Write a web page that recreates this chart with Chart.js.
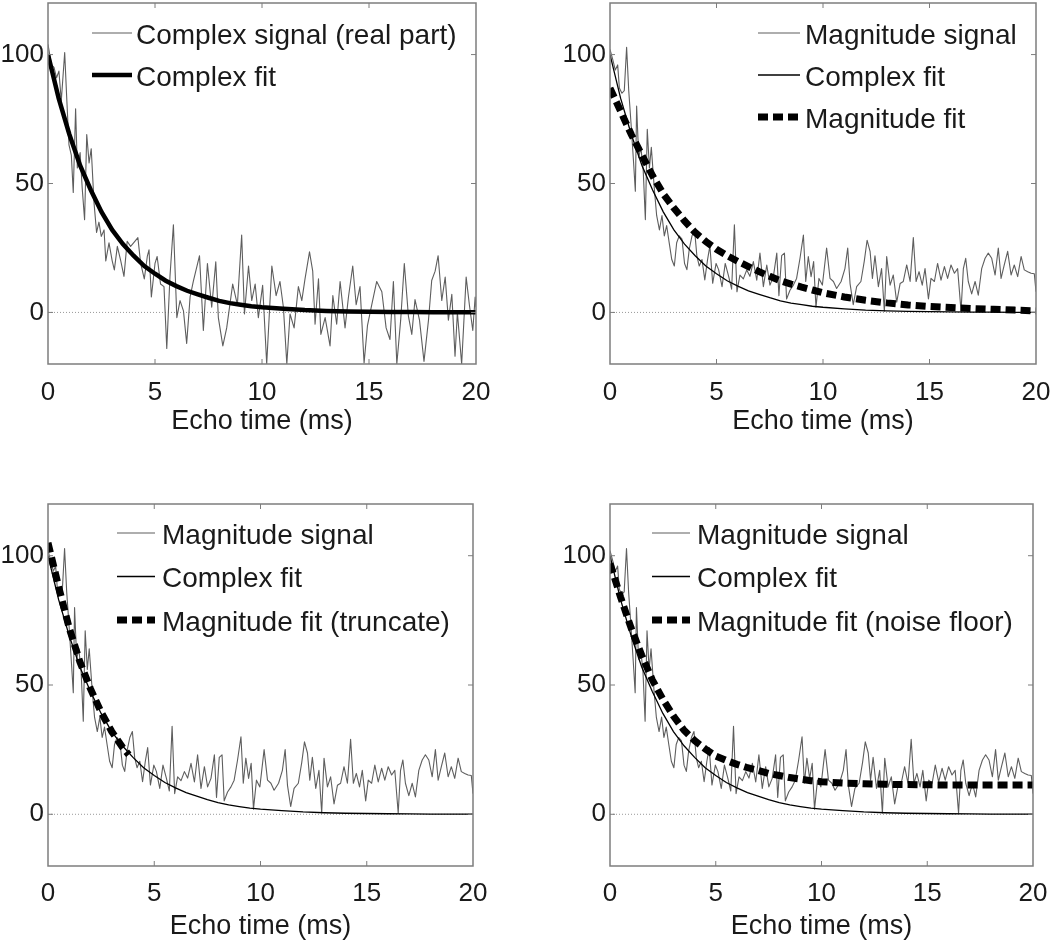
<!DOCTYPE html>
<html>
<head>
<meta charset="utf-8">
<title>Echo time fits</title>
<script src="https://cdn.jsdelivr.net/npm/chart.js@4.4.1/dist/chart.umd.min.js"></script>
<style>
  html, body { margin: 0; padding: 0; background: #fff; }
  #page { position: relative; width: 1050px; height: 944px; }
  .panel { position: absolute; width: 525px; }
  .panel canvas { display: block; }
</style>
</head>
<body>
<div id="page">
  <div class="panel" style="left:0;top:0;height:440px"><canvas id="c1" width="525" height="440"></canvas></div>
  <div class="panel" style="left:525px;top:0;height:440px"><canvas id="c2" width="525" height="440"></canvas></div>
  <div class="panel" style="left:0;top:500px;height:444px"><canvas id="c3" width="525" height="444"></canvas></div>
  <div class="panel" style="left:525px;top:500px;height:444px"><canvas id="c4" width="525" height="444"></canvas></div>
</div>
<script>
(function () {
    'use strict';

    const xTicks = [0, 5, 10, 15, 20];
    const yTicks = [0, 50, 100];

    // complex signal, real part (top left)
    const complexTime = [0, 0.16, 0.28, 0.4, 0.51, 0.62, 0.78, 0.87, 0.98, 1.09, 1.18, 1.29, 1.37, 1.5, 1.6, 1.71, 1.81, 1.92, 2.02, 2.15,
        2.27, 2.38, 2.49, 2.62, 2.7, 2.85, 3.0, 3.1, 3.24, 3.4, 3.55, 3.7, 3.86, 4.0, 4.2, 4.33, 4.5, 4.64, 4.72, 4.83,
        5.0, 5.1, 5.26, 5.42, 5.55, 5.7, 5.86, 6.02, 6.17, 6.33, 6.48, 6.64, 6.79, 7.08, 7.26, 7.45, 7.65, 7.84, 7.96, 8.17,
        8.35, 8.63, 8.85, 9.05, 9.18, 9.37, 9.52, 9.68, 9.83, 10.03, 10.22, 10.46, 10.66, 10.84, 11.0, 11.16, 11.31, 11.5, 11.7, 11.86,
        12.01, 12.22, 12.37, 12.48, 12.64, 12.75, 12.95, 13.18, 13.31, 13.49, 13.65, 13.88, 14.04, 14.24, 14.4, 14.58, 14.77, 14.93, 15.13, 15.36,
        15.6, 15.8, 15.98, 16.14, 16.3, 16.48, 16.65, 16.84, 17.0, 17.15, 17.36, 17.57, 17.78, 17.93, 18.09, 18.23, 18.4, 18.56, 18.71, 18.87,
        19.02, 19.13, 19.33, 19.54, 19.69, 19.85, 19.96, 20];
    const complexSignal = [104, 96, 95, 91, 93.6, 82, 100.8, 84, 65, 61, 46.5, 79, 56, 62, 48, 36, 69, 58, 63.5, 42.6,
        31, 35, 29.5, 32, 20, 27, 20, 16.5, 25.6, 20, 14, 27.6, 25.6, 27, 29, 19, 13, 21.7, 24.3, 6,
        19, 21.7, 11, 10, -14, 14, 34, -2, 4.6, 0.6, -12, 6, 12, 22, -7, 19, 2, 19.6, -2, -13,
        -6, 11, 3, 30, -0.6, 18, 4.6, 11, -2, 10.5, -20, 18, 6.5, 12, 2, -20, -0.6, -6, 10, 4.6,
        13, 23.5, 16, -4.6, 13, -8.5, -2, -13, 6.5, -4.6, 12, -6, 6, 18, 3, 10, -19.6, -5, 3, 12,
        8, -6, -10.5, 12, -20, -3, 19, -1.3, -8.5, 5, -3, -19, -3, 12.4, 16, 22, 4.6, 13.7, -3, 7,
        -17, 0, -20, 13.7, 3, -7, 6, 2];

    // magnitude signal (same in the other three panels)
    const magTime = [0, 0.13, 0.25, 0.36, 0.44, 0.56, 0.67, 0.78, 0.88, 0.99, 1.1, 1.19, 1.25, 1.35, 1.45, 1.56, 1.66, 1.75, 1.85, 1.94,
        2.08, 2.19, 2.32, 2.44, 2.55, 2.66, 2.78, 2.9, 3.02, 3.13, 3.25, 3.38, 3.5, 3.61, 3.72, 3.85, 3.97, 4.08, 4.19, 4.32,
        4.45, 4.58, 4.69, 4.82, 4.98, 5.1, 5.26, 5.41, 5.57, 5.71, 5.84, 5.96, 6.1, 6.26, 6.42, 6.57, 6.73, 6.89, 7.04, 7.2,
        7.36, 7.51, 7.67, 7.83, 7.93, 8.06, 8.19, 8.29, 8.45, 8.61, 8.76, 8.92, 9.08, 9.19, 9.31, 9.44, 9.56, 9.67, 9.81, 9.97,
        10.17, 10.33, 10.49, 10.64, 10.85, 11.03, 11.16, 11.27, 11.42, 11.58, 11.78, 11.94, 12.07, 12.21, 12.32, 12.44, 12.6, 12.75, 12.88, 12.99,
        13.15, 13.3, 13.46, 13.62, 13.77, 13.93, 14.09, 14.24, 14.37, 14.51, 14.66, 14.79, 14.95, 15.07, 15.23, 15.38, 15.54, 15.7, 15.85, 16.01,
        16.17, 16.32, 16.48, 16.59, 16.7, 16.82, 16.98, 17.14, 17.29, 17.45, 17.61, 17.76, 17.92, 18.08, 18.23, 18.36, 18.51, 18.67, 18.83, 18.98,
        19.14, 19.3, 19.45, 19.61, 19.77, 19.92, 20];
    const magSignal = [102, 98, 94, 96, 87, 85, 86, 102.8, 86, 73, 59, 47, 80, 60, 64, 55, 36, 71, 56, 64,
        48, 37.6, 32, 37.6, 29.7, 33.7, 27, 20.5, 18, 27, 29.7, 28.4, 19, 16.6, 24.5, 29.7, 32, 21.8, 18, 20.5,
        12.6, 20.5, 25.8, 11.3, 19, 16.6, 10, 19, 14, 9, 34, 8, 14.5, 13, 16.5, 14, 19.7, 12.5, 23, 10,
        18.4, 10.6, 13.9, 23, 6.5, 22, 23, 5.2, 8.6, 10.6, 13.2, 21, 30, 12, 21.7, 13.9, 19.7, 2, 13.2, 10.6,
        25, 13.2, 12, 9.3, 12, 17, 25, 11.2, 3, 10, 12, 20, 28, 23.7, 13.2, 22, 10, 17, 0.5, 21.7,
        10.6, 14.5, 4, 11.2, 12, 18.4, 12, 29, 12, 15.8, 10.6, 17, 5.2, 13.2, 12, 19, 12.5, 17.8, 13.2, 18.4,
        15.2, 17, 0.5, 17, 21, 12, 7.2, 12, 6.7, 17, 21, 23, 21, 14.5, 25, 13.2, 18.4, 23.7, 14.5, 18.4,
        13.9, 21.7, 16.5, 15.8, 15.2, 15, 8];

    // fitted curves, read at fixed echo times
    const fitTime = [0, 0.5, 1, 1.5, 2, 2.5, 3, 3.5, 4, 4.5, 5, 5.5, 6, 6.5, 7, 7.5, 8, 8.5, 9, 9.5, 10,
        11, 12, 13, 14, 15, 16, 17, 18, 19, 20];
    const complexFit = [100, 83, 69, 57, 47.5, 39, 32, 26.5, 22, 18, 15, 12.3, 10.2, 8.4, 7, 5.7, 4.5, 3.6, 3, 2.4, 2,
        1.4, 0.9, 0.6, 0.4, 0.3, 0.2, 0.15, 0.1, 0.05, 0.03];
    const magFit = [87, 78, 69, 61, 53, 46, 40.5, 35.5, 31, 27.5, 24.5, 22, 19.8, 17.8, 15.8, 14, 12.3, 11, 9.8, 8.7, 7.6,
        6, 4.7, 3.7, 2.9, 2.3, 1.9, 1.5, 1.2, 0.9, 0.6];
    const floorFit = [97, 84, 72, 61.5, 52, 44.5, 38, 32.5, 28.5, 25.3, 22.5, 20.8, 19.3, 18, 17, 15.8, 15, 14.2, 13.6, 13, 12.6,
        12.1, 11.8, 11.6, 11.5, 11.4, 11.3, 11.3, 11.3, 11.3, 11.3];
    const truncTime = [0, 0.5, 1, 1.5, 2, 2.5, 3, 3.5, 3.8];
    const truncFit = [105, 88, 72, 59, 48.5, 39.5, 32, 26, 23];

    const FONT = "'Liberation Sans', Arial, sans-serif";
    const TEXT = '#1a1a1a';
    const pts = (xs, ys) => xs.map((x, i) => ({ x: x, y: ys[i] }));

    function signal(label, xs, ys) {
        return { label, data: pts(xs, ys), borderColor: '#5e5e5e', borderWidth: 1.1, borderJoinStyle: 'round', order: 3 };
    }
    function solid(label, xs, ys, w) {
        return { label, data: pts(xs, ys), borderColor: '#000', borderWidth: w, order: 2 };
    }
    function dashed(label, xs, ys) {
        return { label, data: pts(xs, ys), borderColor: '#000', borderWidth: 7, borderDash: [10, 5], borderCapStyle: 'butt', order: 1 };
    }

    // box, inward ticks, dotted zero line and the legend
    const framePlugin = {
        id: 'frame',
        beforeDatasetsDraw(chart) {
            const { ctx, chartArea: a, scales: { y } } = chart;
            const y0 = y.getPixelForValue(0);
            ctx.save();
            ctx.strokeStyle = '#999';
            ctx.lineWidth = 1;
            ctx.setLineDash([1, 2]);
            ctx.beginPath();
            ctx.moveTo(a.left, y0);
            ctx.lineTo(a.right, y0);
            ctx.stroke();
            ctx.restore();
        },
        afterDatasetsDraw(chart, args, opts) {
            const { ctx, chartArea: a, scales: { x, y } } = chart;
            ctx.save();
            ctx.strokeStyle = '#7d7d7d';
            ctx.lineWidth = 1.5;
            ctx.strokeRect(a.left, a.top, a.right - a.left, a.bottom - a.top);
            ctx.lineWidth = 1;
            ctx.beginPath();
            xTicks.slice(1, -1).forEach(v => {
                const px = x.getPixelForValue(v);
                ctx.moveTo(px, a.bottom); ctx.lineTo(px, a.bottom - 5);
                ctx.moveTo(px, a.top); ctx.lineTo(px, a.top + 5);
            });
            yTicks.forEach(v => {
                const py = y.getPixelForValue(v);
                ctx.moveTo(a.left, py); ctx.lineTo(a.left + 5, py);
                ctx.moveTo(a.right, py); ctx.lineTo(a.right - 5, py);
            });
            ctx.stroke();

            ctx.font = '28px ' + FONT;
            ctx.fillStyle = TEXT;
            ctx.textBaseline = 'middle';
            chart.data.datasets.forEach((ds, i) => {
                const ly = opts.top + i * opts.step;
                ctx.strokeStyle = ds.borderColor;
                ctx.lineWidth = ds.borderWidth;
                ctx.lineCap = 'butt';
                ctx.setLineDash(ds.borderDash || []);
                ctx.beginPath();
                ctx.moveTo(opts.x0, ly);
                ctx.lineTo(opts.x1, ly);
                ctx.stroke();
                ctx.fillText(ds.label, opts.tx, ly + 3);
            });
            ctx.restore();
        }
    };

    function makeChart(id, datasets, o) {
        return new Chart(document.getElementById(id), {
            type: 'line',
            data: { datasets },
            options: {
                responsive: false,
                animation: false,
                layout: { padding: o.pad },
                elements: { point: { radius: 0 }, line: { tension: 0 } },
                plugins: { legend: { display: false }, tooltip: { enabled: false }, frame: o.legend },
                scales: {
                    x: {
                        type: 'linear', min: 0, max: 20,
                        afterBuildTicks: s => { s.ticks = xTicks.map(v => ({ value: v })); },
                        afterFit: s => { s.height = o.xHeight; s.paddingLeft = 0; s.paddingRight = 0; },
                        grid: { display: false, drawTicks: false },
                        border: { display: false },
                        ticks: { padding: o.tickPad, maxRotation: 0, color: TEXT, font: { family: FONT, size: 26 } },
                        title: { display: true, text: 'Echo time (ms)', color: TEXT, font: { family: FONT, size: 27 }, padding: { top: 0, bottom: o.titlePad } }
                    },
                    y: {
                        min: -20, max: 120,
                        afterBuildTicks: s => { s.ticks = yTicks.map(v => ({ value: v })); },
                        afterFit: s => { s.width = 48; s.paddingTop = 0; s.paddingBottom = 0; },
                        grid: { display: false, drawTicks: false },
                        border: { display: false },
                        ticks: { padding: 4, color: TEXT, font: { family: FONT, size: 26 } }
                    }
                }
            },
            plugins: [framePlugin]
        });
    }

    makeChart('c1', [
        signal('Complex signal (real part)', complexTime, complexSignal),
        solid('Complex fit', fitTime, complexFit, 4.5)
    ], { pad: { left: 0, top: 3, right: 49, bottom: 0 }, xHeight: 76, tickPad: 13, titlePad: 2,
         legend: { x0: 92, x1: 132, tx: 136, top: 33, step: 42 } });

    makeChart('c2', [
        signal('Magnitude signal', magTime, magSignal),
        solid('Complex fit', fitTime, complexFit, 1.3),
        dashed('Magnitude fit', fitTime, magFit)
    ], { pad: { left: 37, top: 3, right: 14, bottom: 0 }, xHeight: 76, tickPad: 13, titlePad: 2,
         legend: { x0: 233, x1: 275, tx: 280, top: 33, step: 42 } });

    makeChart('c3', [
        signal('Magnitude signal', magTime, magSignal),
        solid('Complex fit', fitTime, complexFit, 1.3),
        dashed('Magnitude fit (truncate)', truncTime, truncFit)
    ], { pad: { left: 0, top: 4, right: 52, bottom: 0 }, xHeight: 78, tickPad: 12, titlePad: 1,
         legend: { x0: 117, x1: 155, tx: 162, top: 33, step: 43.5 } });

    makeChart('c4', [
        signal('Magnitude signal', magTime, magSignal),
        solid('Complex fit', fitTime, complexFit, 1.3),
        dashed('Magnitude fit (noise floor)', fitTime, floorFit)
    ], { pad: { left: 37, top: 4, right: 17, bottom: 0 }, xHeight: 78, tickPad: 12, titlePad: 1,
         legend: { x0: 127, x1: 165, tx: 172, top: 33, step: 43.5 } });
})();
</script>
</body>
</html>
